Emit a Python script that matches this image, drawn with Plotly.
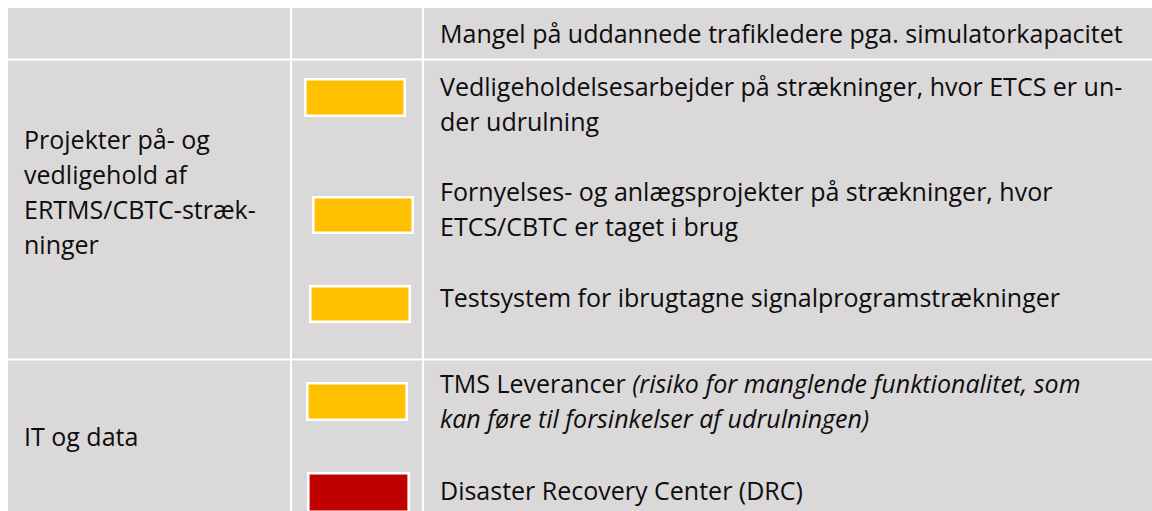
import plotly.graph_objects as go

# ---- data ----
groups = [[], ["Projekter på- og", "vedligehold af", "ERTMS/CBTC-stræk-", "ninger"], ["IT og data"]]
items = [
    ["Mangel på uddannede trafikledere pga. simulatorkapacitet"],
    ["Vedligeholdelsesarbejder på strækninger, hvor ETCS er un-", "der udrulning"],
    ["Fornyelses- og anlægsprojekter på strækninger, hvor", "ETCS/CBTC er taget i brug"],
    ["Testsystem for ibrugtagne signalprogramstrækninger"],
    ["TMS Leverancer <i>(risiko for manglende funktionalitet, som</i>",
     "<i>kan føre til forsinkelser af udrulningen)</i>"],
    ["Disaster Recovery Center (DRC)"],
]
status = [None, "gul", "gul", "gul", "gul", "rød"]
status_colors = {"gul": "#FFC000", "rød": "#C00000"}

# ---- layout (pixel coordinates) ----
W, H = 1152, 511
group_first_y = [None, 139, 436]
item_first_y = [33, 86, 191, 297, 383, 490]
line_h = 35
box_rects = [None,
             (304, 78, 406, 117),
             (312, 196, 414, 234),
             (309, 285, 411, 323),
             (306, 382, 408, 421),
             (307, 472, 410, 513)]
col_lines = [291, 423]
row_lines = [59.5, 359.5]
bg = "#DAD8D9"
font_family = "Open Sans, Noto Sans, sans-serif"
fs = 25
txt_color = "#0d0d0d"

fig = go.Figure()
shapes = []
shapes.append(dict(type="rect", xref="x", yref="y", x0=8, x1=W + 2, y0=8, y1=H + 2,
                   fillcolor=bg, line=dict(width=0), layer="below"))
for x in col_lines:
    shapes.append(dict(type="line", xref="x", yref="y", x0=x, x1=x, y0=8, y1=H + 2,
                       line=dict(color="white", width=2)))
for y in row_lines:
    shapes.append(dict(type="line", xref="x", yref="y", x0=8, x1=W + 2, y0=y, y1=y,
                       line=dict(color="white", width=2)))
for st, r in zip(status, box_rects):
    if st is None:
        continue
    x0, y0, x1, y1 = r
    shapes.append(dict(type="rect", xref="x", yref="y", x0=x0 + 1.3, x1=x1 - 1.3,
                       y0=y0 + 1.3, y1=y1 - 1.3, fillcolor=status_colors[st],
                       line=dict(color="white", width=2.6)))

annotations = []
def add_lines(lines, x, y0):
    for i, t in enumerate(lines):
        annotations.append(dict(x=x, y=y0 + i * line_h, xref="x", yref="y", text=t,
                                showarrow=False, xanchor="left", yanchor="middle",
                                align="left",
                                font=dict(size=fs, color=txt_color, family=font_family)))

for g, gy in zip(groups, group_first_y):
    if g:
        add_lines(g, 22, gy)
for t, ty in zip(items, item_first_y):
    add_lines(t, 438, ty)

fig.add_trace(go.Scatter(x=[0], y=[0], mode="markers", marker=dict(opacity=0),
                         showlegend=False, hoverinfo="skip"))
fig.update_layout(
    width=W, height=H, margin=dict(l=0, r=0, t=0, b=0),
    paper_bgcolor="white", plot_bgcolor="white",
    xaxis=dict(range=[0, W], visible=False, fixedrange=True),
    yaxis=dict(range=[H, 0], visible=False, fixedrange=True),
    shapes=shapes, annotations=annotations, showlegend=False,
)
fig.write_html("out.html", config={"displayModeBar": False},
               post_script="document.body.style.margin='0';document.body.style.overflow='hidden';")
